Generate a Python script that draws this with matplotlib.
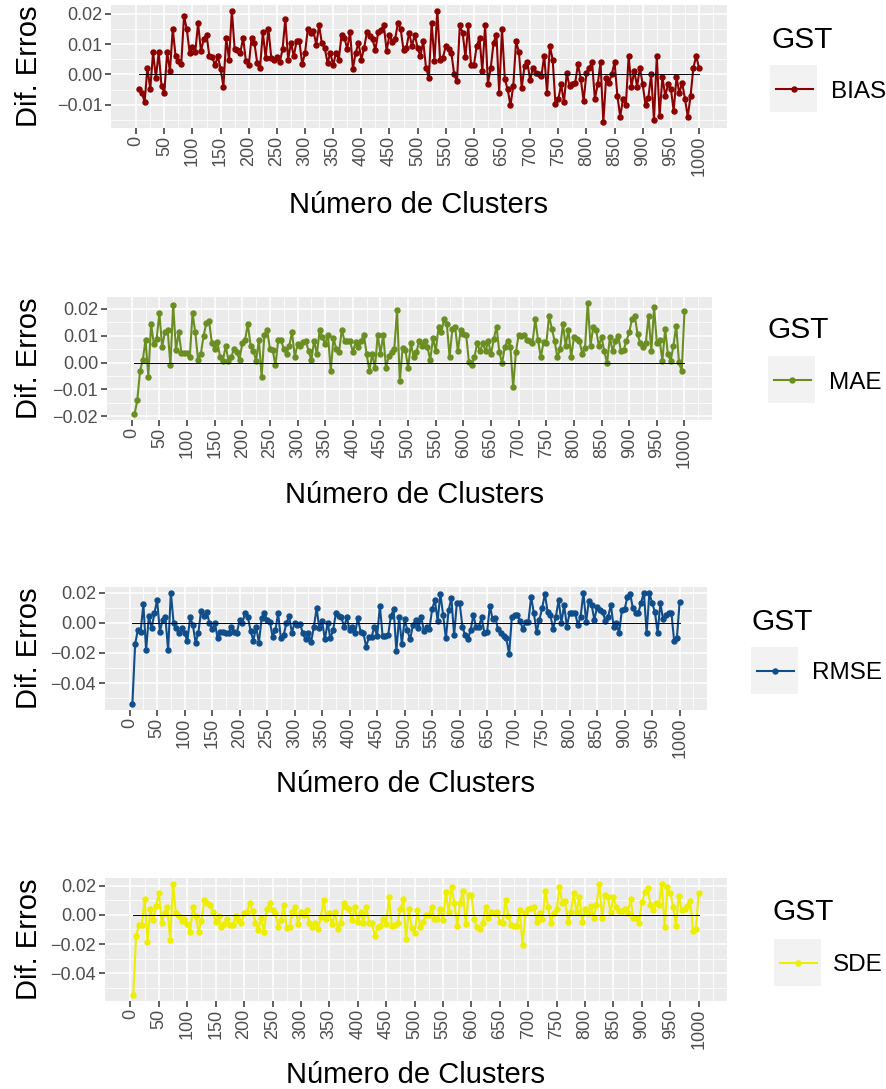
import numpy as np
import matplotlib
matplotlib.use('Agg')
import matplotlib.pyplot as plt
from matplotlib.ticker import FixedLocator, FuncFormatter

plt.rcParams['font.family'] = ['Liberation Sans', 'DejaVu Sans']

# number of clusters on the x axis
n_clusters = list(range(5, 1005, 5))

bias = [
    -0.0047, -0.0060, -0.0090, 0.0022, -0.0049, 0.0073, -0.0011, 0.0073, -0.0038, -0.0060,
    0.0073, 0.0011, 0.0150, 0.0060, 0.0044, 0.0033, 0.0191, 0.0148, 0.0071, 0.0091,
    0.0073, 0.0169, 0.0077, 0.0115, 0.0131, 0.0060, 0.0058, 0.0030, 0.0060, 0.0019,
    -0.0040, 0.0120, 0.0049, 0.0210, 0.0082, 0.0080, 0.0071, 0.0120, 0.0044, 0.0030,
    0.0120, 0.0104, 0.0038, 0.0020, 0.0139, 0.0055, 0.0150, 0.0055, 0.0047, 0.0058,
    0.0040, 0.0082, 0.0183, 0.0049, 0.0104, 0.0060, 0.0109, 0.0109, 0.0033, 0.0071,
    0.0150, 0.0137, 0.0142, 0.0098, 0.0161, 0.0102, 0.0087, 0.0038, 0.0071, 0.0030,
    0.0071, 0.0049, 0.0131, 0.0120, 0.0084, 0.0139, 0.0019, 0.0071, 0.0104, 0.0049,
    0.0087, 0.0139, 0.0126, 0.0115, 0.0080, 0.0139, 0.0145, 0.0161, 0.0077, 0.0131,
    0.0106, 0.0115, 0.0169, 0.0148, 0.0080, 0.0087, 0.0137, 0.0093, 0.0131, 0.0087,
    0.0060, 0.0109, 0.0022, -0.0011, 0.0169, 0.0044, 0.0210, 0.0049, 0.0055, 0.0093,
    0.0084, 0.0071, 0.0000, -0.0022, 0.0161, 0.0137, 0.0058, 0.0161, 0.0030, 0.0030,
    0.0093, 0.0120, 0.0011, 0.0161, -0.0030, 0.0022, 0.0104, 0.0131, -0.0060, 0.0150,
    -0.0016, -0.0049, -0.0102, -0.0038, 0.0109, 0.0073, -0.0044, 0.0027, 0.0040, -0.0019,
    0.0022, 0.0005, 0.0000, -0.0005, 0.0062, -0.0060, 0.0093, 0.0049, -0.0098, -0.0082,
    -0.0033, -0.0091, 0.0003, -0.0038, -0.0033, -0.0027, 0.0033, -0.0016, -0.0087, 0.0005,
    0.0022, 0.0040, -0.0080, -0.0033, 0.0040, -0.0158, -0.0011, -0.0027, 0.0000, 0.0040,
    -0.0071, -0.0139, -0.0080, -0.0102, 0.0060, -0.0040, 0.0011, -0.0040, 0.0022, -0.0033,
    -0.0102, -0.0077, 0.0000, -0.0150, 0.0060, -0.0137, -0.0008, -0.0071, -0.0033, -0.0047,
    -0.0120, -0.0008, -0.0062, -0.0027, -0.0080, -0.0139, -0.0071, 0.0022, 0.0060, 0.0022,
]

mae = [
    -0.0193, -0.0141, -0.0032, 0.0010, 0.0084, -0.0052, 0.0143, 0.0069, 0.0088, 0.0183,
    0.0059, 0.0112, 0.0121, -0.0011, 0.0215, 0.0047, 0.0112, 0.0035, 0.0035, 0.0035,
    0.0020, 0.0183, 0.0112, 0.0010, 0.0032, 0.0100, 0.0146, 0.0153, 0.0072, 0.0051,
    0.0075, 0.0020, 0.0007, 0.0063, 0.0007, 0.0020, 0.0051, 0.0038, 0.0010, 0.0072,
    0.0084, 0.0143, 0.0063, 0.0044, 0.0007, 0.0084, -0.0052, 0.0104, 0.0121, 0.0051,
    0.0047, -0.0011, 0.0084, 0.0084, 0.0051, 0.0032, 0.0063, 0.0112, 0.0020, 0.0069,
    0.0063, 0.0075, 0.0081, 0.0042, 0.0010, 0.0081, 0.0032, 0.0121, 0.0094, 0.0069,
    0.0104, -0.0030, 0.0091, 0.0051, 0.0038, 0.0121, 0.0081, 0.0081, 0.0081, 0.0038,
    0.0075, 0.0057, 0.0081, 0.0104, 0.0030, -0.0030, 0.0032, -0.0020, 0.0104, 0.0032,
    0.0104, -0.0020, 0.0026, 0.0038, 0.0051, 0.0195, -0.0069, 0.0054, 0.0047, -0.0020,
    0.0072, 0.0020, 0.0038, 0.0081, 0.0063, 0.0081, 0.0057, 0.0010, 0.0091, 0.0042,
    0.0133, 0.0112, 0.0162, 0.0143, 0.0020, 0.0125, 0.0133, 0.0042, 0.0121, 0.0106,
    0.0104, 0.0001, -0.0011, 0.0020, 0.0072, 0.0042, 0.0072, 0.0042, 0.0081, 0.0030,
    0.0088, 0.0133, 0.0038, -0.0002, 0.0059, 0.0081, 0.0059, -0.0091, 0.0038, 0.0104,
    0.0100, 0.0104, 0.0084, 0.0081, 0.0072, 0.0162, 0.0084, 0.0020, 0.0075, 0.0072,
    0.0174, 0.0125, 0.0081, 0.0020, 0.0051, 0.0143, 0.0063, 0.0121, 0.0020, 0.0094,
    0.0088, 0.0081, 0.0032, 0.0054, 0.0223, 0.0063, 0.0133, 0.0121, 0.0063, 0.0094,
    0.0042, -0.0002, 0.0094, 0.0042, 0.0081, 0.0100, 0.0042, 0.0047, 0.0081, 0.0112,
    0.0162, 0.0174, 0.0106, 0.0072, 0.0059, 0.0072, 0.0174, 0.0044, 0.0205, 0.0072,
    0.0084, 0.0007, 0.0125, 0.0030, 0.0007, 0.0063, 0.0137, 0.0001, -0.0032, 0.0193,
]

rmse = [
    -0.0542, -0.0142, -0.0049, -0.0060, 0.0124, -0.0182, 0.0044, -0.0038, 0.0062, 0.0151,
    -0.0060, 0.0018, 0.0036, -0.0182, 0.0200, -0.0004, -0.0038, -0.0067, -0.0038, -0.0071,
    -0.0120, 0.0036, -0.0016, -0.0133, -0.0067, 0.0080, 0.0044, 0.0073, 0.0000, -0.0044,
    0.0000, -0.0104, -0.0060, -0.0060, -0.0067, -0.0067, -0.0027, -0.0060, -0.0067, 0.0018,
    0.0000, 0.0062, 0.0036, -0.0053, -0.0120, -0.0027, -0.0133, 0.0029, 0.0062, 0.0018,
    0.0007, -0.0093, -0.0049, 0.0062, -0.0104, -0.0082, -0.0004, 0.0044, -0.0067, 0.0000,
    -0.0016, -0.0009, -0.0071, -0.0111, -0.0071, -0.0127, -0.0027, 0.0096, -0.0038, 0.0013,
    -0.0111, 0.0000, -0.0104, -0.0049, 0.0062, 0.0044, 0.0036, -0.0027, 0.0036, -0.0049,
    -0.0027, -0.0067, 0.0029, -0.0060, -0.0067, -0.0160, -0.0098, -0.0093, -0.0027, -0.0089,
    0.0111, -0.0089, -0.0089, -0.0082, 0.0044, 0.0089, -0.0187, 0.0036, -0.0142, 0.0022,
    -0.0049, -0.0111, -0.0016, 0.0018, -0.0038, 0.0040, -0.0053, -0.0027, -0.0044, 0.0089,
    0.0151, 0.0013, 0.0191, 0.0051, -0.0104, 0.0084, 0.0162, -0.0082, 0.0133, 0.0133,
    -0.0027, -0.0082, -0.0111, -0.0049, 0.0051, -0.0031, -0.0027, 0.0036, -0.0067, -0.0060,
    0.0111, 0.0022, 0.0029, -0.0044, -0.0067, -0.0089, -0.0104, -0.0209, 0.0040, 0.0051,
    0.0051, 0.0013, -0.0044, 0.0007, 0.0007, 0.0173, 0.0062, -0.0060, 0.0018, 0.0096,
    0.0191, 0.0073, 0.0051, -0.0044, 0.0040, 0.0151, 0.0000, 0.0118, -0.0027, 0.0067,
    0.0062, 0.0067, -0.0016, 0.0040, 0.0200, 0.0007, 0.0147, 0.0118, 0.0018, 0.0107,
    0.0084, 0.0073, 0.0013, 0.0040, 0.0118, -0.0027, -0.0004, -0.0067, 0.0084, 0.0089,
    0.0173, 0.0191, 0.0096, 0.0062, 0.0067, 0.0133, 0.0200, -0.0067, 0.0200, 0.0129,
    0.0073, -0.0067, 0.0129, 0.0022, 0.0051, 0.0067, 0.0067, -0.0120, -0.0104, 0.0140,
]

sde = [
    -0.0552, -0.0145, -0.0069, -0.0069, 0.0108, -0.0184, 0.0039, -0.0034, 0.0062, 0.0149,
    -0.0053, 0.0011, 0.0053, -0.0172, 0.0214, 0.0011, -0.0011, -0.0039, -0.0030, -0.0062,
    -0.0115, 0.0057, -0.0011, -0.0115, -0.0039, 0.0099, 0.0080, 0.0069, 0.0016, -0.0046,
    -0.0011, -0.0080, -0.0062, -0.0030, -0.0069, -0.0069, -0.0011, -0.0034, -0.0057, 0.0011,
    0.0016, 0.0080, 0.0023, -0.0053, -0.0103, -0.0023, -0.0115, 0.0039, 0.0080, 0.0030,
    0.0011, -0.0080, -0.0034, 0.0069, -0.0092, -0.0080, 0.0016, 0.0053, -0.0062, 0.0016,
    0.0000, 0.0030, -0.0057, -0.0085, -0.0057, -0.0099, -0.0016, 0.0099, -0.0030, 0.0011,
    -0.0062, 0.0016, -0.0099, -0.0053, 0.0080, 0.0053, 0.0039, -0.0034, 0.0053, -0.0046,
    0.0016, -0.0053, 0.0053, -0.0053, -0.0057, -0.0145, -0.0085, -0.0076, -0.0030, -0.0062,
    0.0122, -0.0076, -0.0069, -0.0057, 0.0039, 0.0108, -0.0168, 0.0039, -0.0092, -0.0122,
    0.0030, -0.0085, -0.0046, 0.0000, 0.0000, 0.0053, -0.0030, -0.0030, 0.0039, -0.0034,
    0.0154, 0.0016, 0.0191, 0.0080, -0.0076, 0.0080, 0.0161, -0.0062, 0.0138, 0.0138,
    -0.0030, -0.0085, -0.0099, -0.0057, 0.0053, -0.0023, 0.0016, 0.0011, 0.0016, -0.0046,
    -0.0053, 0.0099, -0.0011, -0.0069, -0.0076, -0.0076, 0.0030, -0.0207, 0.0011, 0.0039,
    0.0046, 0.0053, -0.0046, 0.0011, -0.0030, 0.0161, 0.0053, -0.0053, 0.0011, 0.0039,
    0.0191, 0.0080, 0.0092, -0.0046, 0.0016, 0.0149, 0.0016, 0.0122, -0.0046, 0.0039,
    0.0011, 0.0062, -0.0023, 0.0069, 0.0214, -0.0023, 0.0138, 0.0122, 0.0016, 0.0122,
    0.0053, 0.0023, 0.0023, 0.0039, 0.0011, 0.0108, -0.0023, -0.0023, -0.0053, 0.0085,
    0.0154, 0.0184, 0.0069, 0.0030, 0.0080, 0.0069, 0.0214, -0.0085, 0.0191, 0.0149,
    0.0053, -0.0076, 0.0131, 0.0030, 0.0039, 0.0062, 0.0092, -0.0108, -0.0099, 0.0149,
]

series_names = ['BIAS', 'MAE', 'RMSE', 'SDE']
series_values = [bias, mae, rmse, sde]
series_colors = ['#8B0000', '#6B8E23', '#104E8B', '#EEEE00']
y_breaks = [
    [-0.01, 0.00, 0.01, 0.02],
    [-0.02, -0.01, 0.00, 0.01, 0.02],
    [-0.04, -0.02, 0.00, 0.02],
    [-0.04, -0.02, 0.00, 0.02],
]
x_breaks = list(range(0, 1001, 50))

W, H = 887, 1089
fig = plt.figure(figsize=(W / 100, H / 100), dpi=100)


def px_box(l, t, r, b):
    return [l / W, 1 - b / H, (r - l) / W, (b - t) / H]


# panel boxes and legend anchors in pixels
panel_boxes = [(111, 5, 727, 128), (107, 297, 712, 420),
               (105, 587, 707, 710), (105, 878, 727, 1001)]
xlab_pos = [(419, 213), (415, 503), (406, 792), (416, 1083)]
legend_title_pos = [(772, 47.5), (768, 337.5), (752, 630), (773, 919.5)]
legend_key_box = [(770, 65, 817, 112), (768, 356, 815, 403),
                  (751, 647, 798, 694), (774, 939, 821, 986)]
legend_label_pos = [(831, 97.7), (829, 388.7), (812, 678.7), (833, 970.7)]

tick_fmt = FuncFormatter(lambda v, _: f'{v:.2f}'.replace('-', '\u2212'))

for i, name in enumerate(series_names):
    ax = fig.add_axes(px_box(*panel_boxes[i]))
    ax.set_facecolor('#EBEBEB')
    for s in ax.spines.values():
        s.set_visible(False)

    ax.plot(n_clusters, series_values[i], color=series_colors[i], lw=1.5,
            marker='o', ms=3.6, zorder=3)
    ax.plot(n_clusters, [0] * len(n_clusters), color='black', lw=0.7, zorder=4)
    ax.margins(x=0.05, y=0.05)

    yb = y_breaks[i]
    step = yb[1] - yb[0]
    ax.yaxis.set_major_locator(FixedLocator(yb))
    ax.yaxis.set_minor_locator(FixedLocator([v - step / 2 for v in yb] + [yb[-1] + step / 2]))
    ax.yaxis.set_major_formatter(tick_fmt)
    ax.xaxis.set_major_locator(FixedLocator(x_breaks))
    ax.xaxis.set_minor_locator(FixedLocator([v + 25 for v in x_breaks]))

    ax.grid(which='major', color='white', lw=1.1)
    ax.grid(which='minor', color='white', lw=0.55)
    ax.set_axisbelow(True)
    ax.tick_params(which='major', length=4.3, width=1.1, color='#333333',
                   labelcolor='#4D4D4D', labelsize=13, pad=2)
    ax.tick_params(which='minor', length=0)
    ax.tick_params(axis='x', labelrotation=90, pad=1.5)

    l, t, r, b = panel_boxes[i]
    fig.text(37.5 / W, 1 - (t + b) / 2 / H, 'Dif. Erros', rotation=90,
             rotation_mode='anchor', ha='center', va='baseline', fontsize=21)
    fig.text(xlab_pos[i][0] / W, 1 - xlab_pos[i][1] / H, 'Número de Clusters',
             ha='center', va='baseline', fontsize=21)

    # legend: title, key box and label
    fig.text(legend_title_pos[i][0] / W, 1 - legend_title_pos[i][1] / H, 'GST',
             ha='left', va='baseline', fontsize=21.5)
    kax = fig.add_axes(px_box(*legend_key_box[i]))
    kax.set_facecolor('#F2F2F2')
    kax.set_xlim(0, 1)
    kax.set_ylim(0, 1)
    kax.set_xticks([])
    kax.set_yticks([])
    for s in kax.spines.values():
        s.set_visible(False)
    kax.plot([0.12, 0.91], [0.5, 0.5], color=series_colors[i], lw=1.5)
    kax.plot([0.51], [0.5], color=series_colors[i], marker='o', ms=3.6)
    fig.text(legend_label_pos[i][0] / W, 1 - legend_label_pos[i][1] / H, name,
             ha='left', va='baseline', fontsize=17.5)

plt.savefig('out.png', dpi=100)
plt.close()
